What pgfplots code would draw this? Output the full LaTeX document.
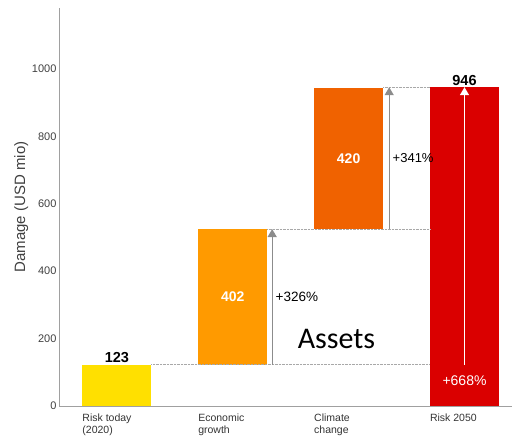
\documentclass[border=0pt]{standalone}
\usepackage{pgfplots}
\pgfplotsset{compat=1.18}
\usepackage{fontspec}
\setmainfont{Liberation Sans}
\newfontfamily\carlito{Carlito}
\usetikzlibrary{arrows.meta}
\definecolor{cyel}{HTML}{FFE000}
\definecolor{corg}{HTML}{FF9A00}
\definecolor{cdorg}{HTML}{F06200}
\definecolor{cred}{HTML}{DA0000}
\definecolor{caxis}{HTML}{A0A0A0}
\definecolor{carrow}{HTML}{8C8C8C}
\definecolor{cdot}{HTML}{A8A8A8}
\pgfplotsset{common/.style={
  scale only axis, width=453pt, height=398pt,
  xmin=-0.5, xmax=3.41, ymin=0, ymax=1181,
  clip=false,
}}
\begin{document}
\begin{tikzpicture}
\begin{axis}[common,
  axis lines=left, axis line style={draw=caxis, line width=0.8pt, -},
  ytick={0,200,400,600,800,1000}, xtick={0,1,2,3},
  xticklabels={Risk today\\(2020), Economic\\growth, Climate\\change, Risk 2050},
  major tick length=0pt,
  xticklabel style={font=\fontsize{10.5}{12.5}\selectfont, align=left, anchor=north west, xshift=-38pt, yshift=-4pt, text=black!80},
  yticklabel style={font=\fontsize{11}{12}\selectfont, text=black!75, xshift=1pt},
  /pgf/number format/assume math mode=true,
  /pgf/number format/1000 sep={},
  ylabel={Damage (USD mio)},
  ylabel style={font=\fontsize{15}{17}\selectfont, text=black!75, yshift=-3pt},
  ybar stacked, bar width=0.595,
]
% invisible base
\addplot[draw=none, fill=none] coordinates {(0,0) (1,123) (2,525) (3,0)};
\addplot[draw=none, fill=cyel] coordinates {(0,123) (1,0) (2,0) (3,0)};
\addplot[draw=none, fill=corg] coordinates {(0,0) (1,402) (2,0) (3,0)};
\addplot[draw=none, fill=cdorg] coordinates {(0,0) (1,0) (2,420) (3,0)};
\addplot[draw=none, fill=cred] coordinates {(0,0) (1,0) (2,0) (3,946)};
% bounding box to match reference margins
\path (rel axis cs:0,0) ++(-59pt,-38pt) (rel axis cs:1,1) ++(3pt,8pt);
\end{axis}
\begin{axis}[common, hide axis]
% dotted connector lines
\addplot[cdot, line width=0.6pt, dash pattern=on 0.7pt off 0.7pt] coordinates {(0.2975,123) (2.70,123)};
\addplot[cdot, line width=0.6pt, dash pattern=on 0.7pt off 0.7pt] coordinates {(1.2975,525) (2.70,525)};
\addplot[cdot, line width=0.6pt, dash pattern=on 0.7pt off 0.7pt] coordinates {(2.2975,946) (2.70,946)};
% arrows
\addplot[carrow, line width=1.3pt, -{Triangle[width=9pt,length=8pt]}] coordinates {(1.34,123) (1.34,525)};
\addplot[carrow, line width=1.3pt, -{Triangle[width=9pt,length=8pt]}] coordinates {(2.35,525) (2.35,946)};
\addplot[white, line width=1.3pt, -{Triangle[width=9pt,length=8pt]}] coordinates {(3.0,123) (3.0,946)};
% labels
\node[anchor=south, font=\fontsize{14.5}{16}\selectfont\bfseries, inner sep=1.5pt] at (axis cs:0,123) {123};
\node[anchor=south, font=\fontsize{14.5}{16}\selectfont\bfseries, inner sep=1.5pt] at (axis cs:3,946) {946};
\node[font=\fontsize{14}{16}\selectfont\bfseries, text=white] at (axis cs:1,324) {402};
\node[font=\fontsize{14}{16}\selectfont\bfseries, text=white] at (axis cs:2,735) {420};
\node[anchor=west, font=\fontsize{13.5}{15}\selectfont, inner sep=1pt] at (axis cs:1.36,324) {+326\%};
\node[anchor=west, font=\fontsize{13}{15}\selectfont, inner sep=1pt] at (axis cs:2.37,735) {+341\%};
\node[font=\fontsize{14}{16}\selectfont, text=white] at (axis cs:3,74) {+668\%};
\node[font=\fontsize{30}{34}\selectfont\carlito] at (axis cs:1.895,198) {Assets};
\end{axis}
\end{tikzpicture}
\end{document}
